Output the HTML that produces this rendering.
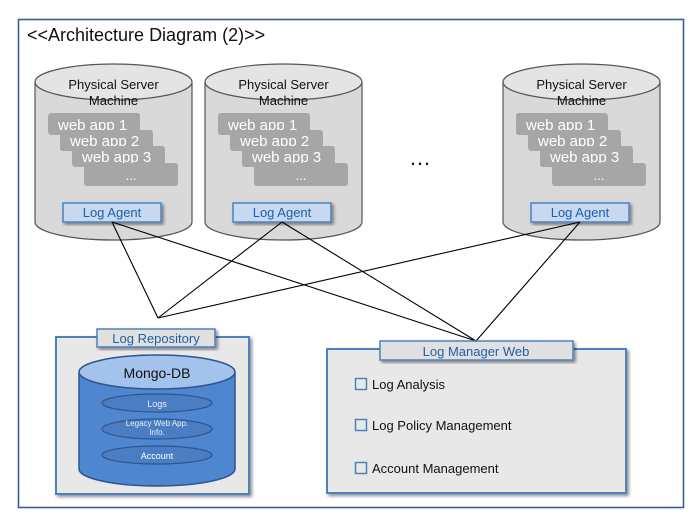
<!DOCTYPE html>
<html><head><meta charset="utf-8"><style>
html,body{margin:0;padding:0;background:#fff;}
svg{display:block;font-family:"Liberation Sans",sans-serif;}
</style></head><body>
<svg width="700" height="526" viewBox="0 0 700 526" xmlns="http://www.w3.org/2000/svg">
<defs>
<filter id="sh" x="-10%" y="-10%" width="130%" height="130%"><feDropShadow dx="2" dy="2" stdDeviation="1.5" flood-color="#000" flood-opacity="0.45"/></filter>
</defs>
<rect x="18.5" y="19.5" width="665" height="488" fill="#fff" stroke="#3a5f94" stroke-width="1.6"/>
<text x="27" y="41" font-size="18" fill="#111">&lt;&lt;Architecture Diagram (2)&gt;&gt;</text>

<g id="cyl">
<path d="M35,82 L35,222 A78.5,18 0 0 0 192,222 L192,82" fill="#d9d9d9" stroke="#555" stroke-width="1.2"/>
<ellipse cx="113.5" cy="82" rx="78.5" ry="18" fill="#e4e4e4" stroke="#555" stroke-width="1.2"/>
<text x="113.5" y="89" font-size="13" text-anchor="middle" fill="#111">Physical Server</text>
<text x="113.5" y="105" font-size="13" text-anchor="middle" fill="#111">Machine</text>
<rect x="48" y="113" width="92" height="22" rx="3" fill="#a6a6a6"/>
<text x="58" y="130" font-size="15" fill="#fff">web app 1</text>
<rect x="60" y="130" width="93" height="21" rx="3" fill="#a6a6a6"/>
<text x="70" y="146" font-size="15" fill="#fff">web app 2</text>
<rect x="72" y="146" width="93" height="21" rx="3" fill="#a6a6a6"/>
<text x="82" y="162" font-size="15" fill="#fff">web app 3</text>
<rect x="84" y="163" width="94" height="23" rx="3" fill="#a6a6a6"/>
<text x="131" y="180" font-size="13" text-anchor="middle" fill="#fff">...</text>
<rect x="63" y="203" width="98" height="19" fill="#c6d9f1" stroke="#4f81bd" stroke-width="1.5" filter="url(#sh)"/>
<text x="112" y="217" font-size="13" text-anchor="middle" fill="#1f5fa8">Log Agent</text>
</g>
<use href="#cyl" x="170"/>
<use href="#cyl" x="468"/>
<text x="420" y="165" font-size="22" text-anchor="middle" fill="#111">…</text>

<g stroke="#000" stroke-width="1.1">
<line x1="112" y1="222" x2="158" y2="318"/>
<line x1="112" y1="222" x2="476" y2="341"/>
<line x1="282" y1="222" x2="158" y2="318"/>
<line x1="282" y1="222" x2="476" y2="341"/>
<line x1="580" y1="222" x2="158" y2="318"/>
<line x1="580" y1="222" x2="476" y2="341"/>
</g>

<rect x="56" y="337" width="193" height="157" fill="#e8e8e8" stroke="#4f81bd" stroke-width="2" filter="url(#sh)"/>
<rect x="97" y="329" width="118" height="18" fill="#e0e0e0" stroke="#4f81bd" stroke-width="1.5" filter="url(#sh)"/>
<text x="156" y="343" font-size="13" text-anchor="middle" fill="#1f5fa8">Log Repository</text>
<path d="M79,372 L79,469 A78,17 0 0 0 235,469 L235,372" fill="#4f86d0" stroke="#2e5590" stroke-width="1.5"/>
<ellipse cx="157" cy="372" rx="78" ry="17" fill="#a3c2ec" stroke="#2e5590" stroke-width="1.5"/>
<text x="157" y="378" font-size="14" text-anchor="middle" fill="#111">Mongo-DB</text>
<ellipse cx="157" cy="403" rx="55" ry="9" fill="#4a7dc2" stroke="#2e5590" stroke-width="1.2"/>
<text x="157" y="407" font-size="9" text-anchor="middle" fill="#e8eef8">Logs</text>
<ellipse cx="157" cy="429" rx="55" ry="10" fill="#4a7dc2" stroke="#2e5590" stroke-width="1.2"/>
<text x="157" y="426" font-size="8" text-anchor="middle" fill="#e8eef8">Legacy Web App.</text>
<text x="157" y="435" font-size="8" text-anchor="middle" fill="#e8eef8">Info.</text>
<ellipse cx="157" cy="455" rx="55" ry="9" fill="#4a7dc2" stroke="#2e5590" stroke-width="1.2"/>
<text x="157" y="459" font-size="9" text-anchor="middle" fill="#fff">Account</text>

<rect x="327" y="349" width="299" height="144" fill="#e8e8e8" stroke="#4f81bd" stroke-width="2" filter="url(#sh)"/>
<rect x="380" y="341" width="193" height="19" fill="#e0e0e0" stroke="#4f81bd" stroke-width="1.5" filter="url(#sh)"/>
<text x="476" y="356" font-size="13" text-anchor="middle" fill="#1f5fa8">Log Manager Web</text>
<g fill="#e8e8e8" stroke="#4f81bd" stroke-width="1.5">
<rect x="355.5" y="378.5" width="11" height="11"/>
<rect x="355.5" y="419.5" width="11" height="11"/>
<rect x="355.5" y="462.5" width="11" height="11"/>
</g>
<g font-size="13" fill="#111">
<text x="372" y="389">Log Analysis</text>
<text x="372" y="430">Log Policy Management</text>
<text x="372" y="473">Account Management</text>
</g>
</svg>
</body></html>
